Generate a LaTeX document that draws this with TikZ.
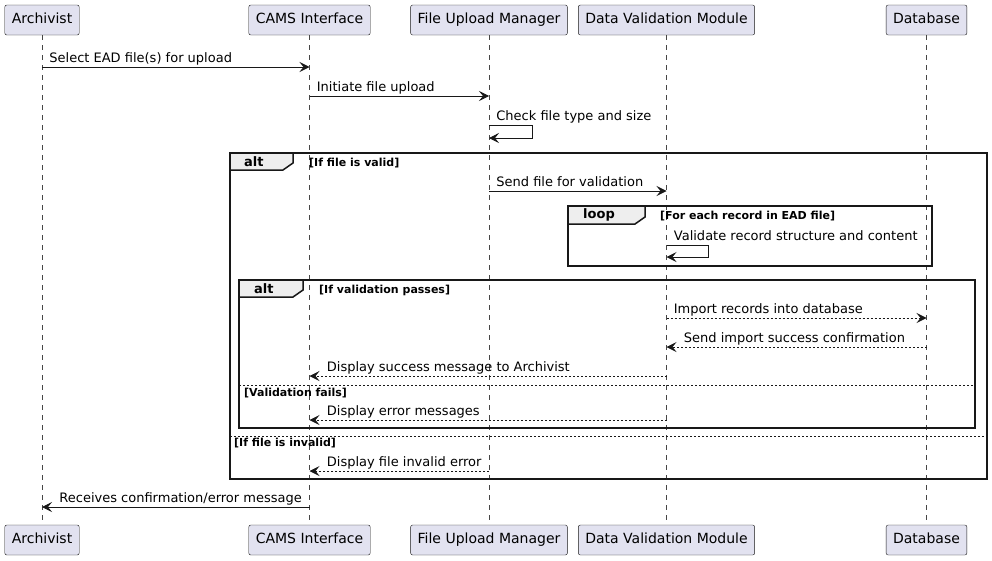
\documentclass[tikz,border=0pt]{standalone}
\usepackage{fontspec}
\setmainfont{DejaVu Sans}
\usetikzlibrary{arrows.meta}
\definecolor{partfill}{HTML}{E2E2F0}
\definecolor{ink}{HTML}{181818}
\definecolor{tabfill}{HTML}{EEEEEE}
\begin{document}
\begin{tikzpicture}[x=1pt,y=-1pt,
  part/.style={draw=ink,fill=partfill,rounded corners=2pt,minimum height=30pt,inner xsep=7pt,text height=10.5pt,text depth=3pt,font=\fontsize{14}{16}\selectfont},
  life/.style={draw=ink!80,dash pattern=on 5pt off 5pt,line width=0.5pt},
  msg/.style={draw=ink,line width=0.8pt,-{Stealth[length=10pt,width=10pt,inset=4pt]}},
  reply/.style={msg,dash pattern=on 2pt off 2pt},
  lbl/.style={anchor=base west,inner sep=0pt,yshift=5pt,font=\fontsize{13}{15}\selectfont},
  grp/.style={draw=ink,line width=1.5pt},
  tab/.style={draw=ink,line width=1.5pt,fill=tabfill},
  tabtxt/.style={anchor=west,inner sep=0pt,font=\bfseries\fontsize{13}{15}\selectfont},
  cond/.style={anchor=base west,inner sep=0pt,font=\bfseries\fontsize{11}{13}\selectfont},
  sep/.style={draw=ink,line width=0.8pt,dash pattern=on 2pt off 2pt}]
\useasboundingbox (0,0) rectangle (992,560);
% participants and lifelines
\foreach \pname/\ptext/\px in {arch/Archivist/42,cams/CAMS Interface/309.5,fum/File Upload Manager/489,dvm/Data Validation Module/666.5,db/Database/926.5}{
  \node[part] (\pname) at (\px,20) {\ptext};
  \node[part] (\pname-b) at (\px,540) {\ptext};
  \draw[life] (\pname) -- (\pname-b);
}
% messages
\draw[msg] (arch |- 0,67) -- node[lbl,pos=0,xshift=7pt]{Select EAD file(s) for upload} (cams |- 0,67);
\draw[msg] (cams |- 0,96) -- node[lbl,pos=0,xshift=7pt]{Initiate file upload} (fum |- 0,96);
\draw[msg] (fum |- 0,125) node[lbl,xshift=7pt]{Check file type and size} -- ++(43,0) -- ++(0,13) -- (fum |- 0,138);
% alt: file valid
\draw[grp] (230,153) rectangle (987,479);
\draw[tab] (230,153) -- (293,153) -- (293,163) -- (283,170) -- (230,170) -- cycle;
\node[tabtxt] (alt1) at (244,161.5) {alt};
\node[cond] (c1) at (309,166) {[If file is valid]};
\draw[msg] (fum |- 0,191) -- node[lbl,pos=0,xshift=7pt]{Send file for validation} (dvm |- 0,191);
% loop
\draw[grp] (568,206) rectangle (932,266);
\draw[tab] (568,206) -- (645,206) -- (645,217) -- (635,224) -- (568,224) -- cycle;
\node[tabtxt] (loop1) at (583,215) {loop};
\node[cond] (c2) at (660,219) {[For each record in EAD file]};
\draw[msg] (dvm |- 0,245) node[lbl,xshift=7pt]{Validate record structure and content} -- ++(42,0) -- ++(0,12) -- (dvm |- 0,257);
% alt: validation
\draw[grp] (239,280) rectangle (975,428);
\draw[tab] (239,280) -- (303,280) -- (303,290) -- (293,297) -- (239,297) -- cycle;
\node[tabtxt] (alt2) at (254,288.5) {alt};
\node[cond] (c3) at (319,293) {[If validation passes]};
\draw[reply] (dvm |- 0,318) -- node[lbl,pos=0,xshift=7pt]{Import records into database} (db |- 0,318);
\draw[reply] (db |- 0,347) -- node[lbl,pos=1,xshift=17pt]{Send import success confirmation} (dvm |- 0,347);
\draw[reply] (dvm |- 0,376) -- node[lbl,pos=1,xshift=17pt]{Display success message to Archivist} (cams |- 0,376);
\draw[sep] (239,385) -- (975,385);
\node[cond] (c4) at (244,396) {[Validation fails]};
\draw[reply] (dvm |- 0,420) -- node[lbl,pos=1,xshift=17pt]{Display error messages} (cams |- 0,420);
\draw[sep] (230,436) -- (987,436);
\node[cond] (c5) at (234,446.5) {[If file is invalid]};
\draw[reply] (fum |- 0,471) -- node[lbl,pos=1,xshift=17pt]{Display file invalid error} (cams |- 0,471);
\draw[msg] (cams |- 0,507) -- node[lbl,pos=1,xshift=17pt]{Receives confirmation/error message} (arch |- 0,507);
\end{tikzpicture}
\end{document}
